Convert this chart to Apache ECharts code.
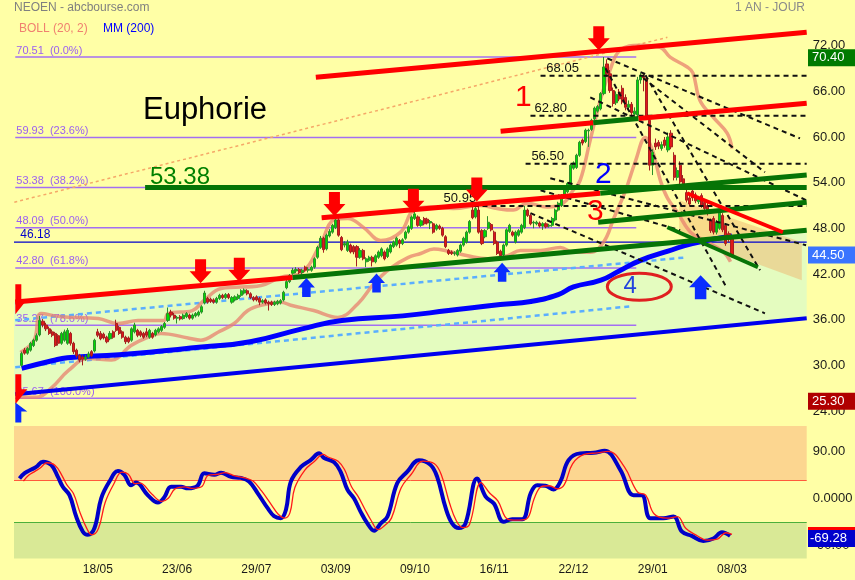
<!DOCTYPE html>
<html><head><meta charset="utf-8">
<script src="https://cdn.jsdelivr.net/npm/echarts@6/dist/echarts.min.js"></script>
<style>html,body{margin:0;padding:0;background:#ffffa6}#c{width:855px;height:580px}</style>
</head><body><div id="c"></div>
<script>
// ---------- calendar / categories ----------
const START = '2020-04-06';
const HOLIDAYS = ['2020-04-10','2020-04-13','2020-05-01','2020-12-25','2021-01-01','2021-04-02','2021-04-05'];
const N_DAYS = 260;
const tickLabels = ['18/05','23/06','29/07','03/09','09/10','16/11','22/12','29/01','08/03'];
const candleFirstIndex = 2;

// ---------- candles [open, close, low, high] ----------
const candles = [
[30.0,31.55,29.8,31.8],[32.0,31.6,31.4,32.3],[31.6,32.2,31.4,32.4],[32.0,32.9,31.8,33.1],[32.6,33.3,32.4,33.5],
[33.3,33.9,33.1,34.2],[34.0,35.9,33.8,36.5],[35.8,35.3,35.0,36.1],[35.3,34.8,34.5,35.6],[34.8,34.2,34.0,35.1],
[34.4,33.95,33.7,34.7],[34.2,32.6,32.4,34.4],[33.9,32.9,32.6,34.1],[32.9,34.2,32.7,34.4],[33.3,34.4,33.1,34.7],
[32.9,34.6,32.7,34.9],[34.2,32.9,32.6,34.4],[32.9,31.8,31.5,33.1],[32.0,31.3,31.0,32.2],[31.3,30.7,30.4,31.5],
[31.1,30.8,30.0,31.3],[30.8,31.1,30.6,31.4],[31.1,31.5,30.9,31.8],[31.8,31.3,31.1,32.0],[31.9,33.3,31.7,33.5],
[34.4,33.95,33.7,34.8],[34.2,33.5,33.3,34.5],[34.1,33.6,33.4,34.3],[33.7,33.1,32.9,33.9],[33.5,34.2,33.3,34.5],
[34.4,33.7,33.5,34.6],[35.5,34.6,34.4,36.0],[35.0,34.2,34.0,35.2],[34.4,33.7,33.5,34.6],[33.7,33.1,32.8,33.9],
[33.6,33.1,32.9,33.8],[33.3,34.8,33.1,35.0],[34.4,35.3,34.2,35.6],[34.6,33.95,33.7,34.8],[34.4,33.95,33.7,34.6],
[34.2,33.7,33.5,34.4],[34.4,33.95,33.7,34.9],[33.7,34.6,33.5,34.8],[34.2,33.7,33.5,34.4],[34.0,34.6,33.8,34.8],
[34.4,34.8,34.2,35.0],[34.6,35.1,34.4,35.3],[35.0,35.5,34.8,35.7],[35.9,36.8,35.7,37.6],[37.0,36.6,36.3,37.3],
[36.6,36.2,36.0,36.9],[36.2,36.3,35.5,36.5],[36.4,36.1,35.9,36.6],[36.15,36.6,36.0,36.8],[36.4,36.8,36.2,37.0],
[36.6,36.2,36.0,36.8],[36.2,36.6,36.0,36.8],[36.5,36.8,36.3,37.0],[36.6,37.0,36.4,37.2],[37.0,37.7,36.8,37.9],
[38.2,39.5,38.0,39.8],[38.8,38.3,38.1,39.0],[38.7,38.4,38.2,38.9],[38.6,38.3,38.1,38.8],[38.3,38.8,38.1,39.0],
[38.8,39.2,38.6,39.4],[39.2,38.9,38.7,39.4],[38.9,39.3,38.7,39.5],[39.3,38.9,38.7,39.5],[38.3,38.9,38.1,39.1],
[38.6,39.0,38.4,39.2],[38.8,39.2,38.6,39.4],[39.2,39.8,39.0,40.0],[39.5,39.9,39.3,40.1],[39.8,39.4,39.2,40.0],
[39.4,38.9,38.7,39.6],[38.9,38.6,38.4,39.1],[39.0,38.6,38.4,39.2],[38.8,38.3,37.9,39.0],[38.3,38.5,38.1,38.7],
[38.6,38.2,38.0,38.8],[38.3,38.1,37.2,38.5],[38.3,38.0,37.8,38.5],[38.0,38.3,37.8,38.5],[38.1,38.4,37.9,38.6],
[38.2,38.5,38.0,38.7],
[38.6,39.6,38.4,39.8],[40.2,41.0,40.0,41.3],[41.0,41.8,40.8,42.0],[42.1,42.5,41.9,42.8],[42.4,42.6,42.1,42.9],
[42.6,42.2,42.0,42.8],[42.2,42.5,41.9,42.7],[42.9,42.5,42.3,43.1],[42.5,42.6,42.2,42.9],[42.5,42.9,42.3,43.1],
[42.9,44.0,42.7,44.2],[44.2,45.5,44.0,45.7],[45.5,46.7,45.3,47.0],[46.7,45.2,44.8,46.9],[45.3,47.1,45.1,47.3],
[47.0,47.6,46.8,47.9],[47.5,48.4,47.3,48.6],[48.1,49.1,47.9,49.4],[49.1,47.1,46.9,49.5],[46.8,45.2,45.0,47.0],
[45.8,46.0,45.5,46.3],[45.1,46.2,44.9,46.5],[45.8,44.9,44.7,46.0],[45.6,44.9,44.6,45.8],[45.6,44.2,43.0,45.8],
[44.2,45.1,44.0,45.4],[45.1,44.0,43.8,45.3],[43.6,44.0,42.9,44.2],[43.8,44.2,43.6,44.4],[44.2,43.6,43.0,44.4],
[43.6,44.4,43.4,44.6],[44.2,44.9,44.0,45.1],[44.4,45.3,44.2,45.5],[44.9,44.0,43.8,45.1],[44.3,45.3,44.1,45.5],
[44.9,45.8,44.7,46.0],[45.6,46.2,45.4,46.4],[45.8,46.7,45.6,46.9],[46.4,46.0,45.4,46.6],[46.0,46.5,45.8,46.7],
[46.7,47.5,46.5,47.7],[47.5,48.2,47.3,48.4],[48.0,49.5,47.8,49.7],[49.3,49.9,49.1,50.5],[49.5,48.4,48.2,49.7],
[48.4,49.0,48.2,49.2],[49.3,48.6,48.4,49.5],[49.2,48.7,48.5,49.4],[48.7,48.9,47.9,49.1],[48.6,47.5,47.3,48.8],
[47.9,48.4,47.7,48.6],[48.3,48.0,47.8,48.5],[48.0,47.1,46.9,48.2],[46.9,45.6,45.4,47.1],[45.1,44.7,44.5,45.3],
[44.9,44.7,44.5,45.1],[44.7,44.8,44.4,45.0],[44.5,45.1,44.3,45.3],[45.0,45.8,44.8,46.0],[45.8,46.7,45.6,46.9],
[46.2,47.5,46.0,47.7],[47.5,48.9,47.3,49.1],[50.4,49.4,49.2,50.8],[49.5,50.6,49.3,50.8],[50.4,47.5,47.3,51.0],
[47.7,46.0,45.8,47.9],[46.9,47.7,46.7,47.9],[48.0,48.8,47.8,49.6],[48.5,47.8,47.6,48.7],[47.5,46.0,45.8,47.7],
[46.2,44.7,44.5,46.4],[45.0,44.4,43.8,45.2],[44.5,45.8,44.3,46.0],[45.8,47.8,45.6,48.0],[47.6,48.4,47.4,48.6],
[47.5,47.1,46.9,47.7],[46.2,47.5,46.0,47.7],[47.1,47.7,46.9,47.9],[47.5,48.4,47.3,48.6],
[48.1,50.4,47.9,50.95],[50.4,49.7,49.5,50.6],[49.7,48.6,48.4,49.9],[48.7,48.8,48.0,49.0],[48.6,48.8,48.4,49.0],
[48.7,48.3,48.1,48.9],[48.3,48.6,47.8,48.8],[48.6,48.2,48.0,48.8],[48.3,48.4,48.1,48.6],[48.4,49.3,48.2,49.5],
[49.1,50.4,48.9,50.6],[50.4,51.3,50.2,51.5],[51.0,52.3,50.8,52.5],[52.3,53.3,52.1,53.5],[52.8,53.9,52.6,54.1],
[53.7,56.3,53.5,56.5],[55.9,56.6,55.7,56.8],[56.0,57.6,55.8,57.8],[57.6,59.3,57.4,59.5],[59.6,59.2,58.9,59.8],
[59.4,60.9,59.2,61.1],[60.8,60.9,58.7,61.1],[61.0,62.2,60.8,62.4],[62.4,63.8,62.2,64.0],[63.4,64.0,63.2,64.2],
[63.7,65.7,63.5,65.9],
[65.7,69.2,65.5,70.51],[69.6,68.3,67.9,70.2],[68.3,66.1,65.8,68.8],[66.1,64.4,64.0,66.5],[64.5,65.6,64.2,66.0],
[65.9,65.0,64.7,66.3],[66.4,64.6,64.3,66.8],[65.2,63.9,63.5,65.6],[63.9,64.3,63.6,64.8],[64.3,63.2,62.8,64.6],
[63.0,63.4,62.6,63.9],[62.9,67.5,62.6,67.9],[67.5,68.1,67.0,68.4],[68.0,67.8,66.0,68.3],[67.7,62.6,62.3,68.1],
[62.2,56.3,55.6,62.6],[56.3,58.0,55.0,58.4],[59.2,58.7,58.3,59.8],[59.3,58.8,58.4,59.6],[58.5,59.0,58.2,59.4],
[59.6,58.9,58.6,60.0],[58.3,60.0,58.0,60.6],[60.5,58.7,58.4,60.9],[57.6,54.7,54.3,58.0],[54.7,55.6,54.3,56.0],
[56.3,54.1,53.8,56.8],[54.5,53.5,53.1,55.0],[52.7,51.7,51.4,53.2],[52.0,51.2,50.9,52.4],[52.9,52.0,51.6,53.3],
[52.4,51.6,51.3,52.7],[51.5,51.9,51.2,52.2],[52.3,51.0,50.7,52.6],[51.4,50.6,50.3,51.7],[51.0,50.0,49.7,51.3],
[49.0,47.7,47.4,49.3],[49.3,47.5,47.2,49.6],[47.5,48.8,47.2,49.1],[48.0,50.0,47.8,50.3],[49.7,47.8,47.5,50.0],
[48.4,46.0,45.7,48.7],[47.3,46.6,46.2,47.6],[46.7,44.5,44.2,47.0]
];

// ---------- indicators: [dayIndex, value] ----------
const bollUpper = [[1.6,31.7],[6.1,33.3],[8.4,36.8],[15,36.4],[27.1,36.15],[33.7,35.5],[40.2,35.9],[48.7,35.9],[50,36.8],[58,37.2],[62,38.6],[67.4,40.1],[80.5,40.5],[87.1,41.6],[93.6,42.1],[100.1,46.0],[104.4,49.1],[109,49.3],[114.2,48.1],[119.8,46.4],[126.3,47.5],[130.6,50.4],[136.1,50.8],[143.6,50.6],[152.5,51.0],[158,50.6],[163.2,50.4],[167.8,51.3],[174.4,50.8],[179.6,51.3],[182.9,53.0],[185.2,54.3],[188.5,59.6],[191.8,64.8],[195,68.8],[198.3,71.4],[204.8,72.05],[211.4,71.8],[214.7,70.5],[220.3,69.2],[222.2,68.4],[224.5,64.8],[228.8,62.6],[233.4,60.5],[235,58.5]];
const bollLower = [[1.6,25.8],[6.8,25.8],[11.7,27.0],[17.3,29.3],[23.8,30.9],[31.4,30.7],[37.9,32.6],[43.5,33.7],[47.7,34.2],[56.6,33.6],[60.8,33.3],[66.4,34.35],[71.7,35.5],[76.2,37.2],[80.5,37.9],[87.1,38.3],[90.3,37.9],[97.8,37.2],[105.7,36.3],[112.3,38.1],[117.5,40.7],[123.1,42.8],[128.7,44.15],[132.9,44.7],[137.2,45.3],[141.8,45.0],[148.3,44.4],[154.8,44.0],[161.4,44.4],[165.6,45.1],[172.2,45.1],[178.7,45.5],[183,44.85],[188.5,44.85],[192.9,46.2],[196.2,49.3],[200.1,53.0],[203.4,56.9],[206.6,59.95],[208.9,58.3],[211.5,54.3],[213.8,52.0],[217.1,50.1],[221.4,47.5],[226.9,46.2],[232.2,44.9],[234.5,43.6]];
const mm200 = [[2,29.6],[12,30.6],[17,31.0],[34,31.4],[61,32.4],[77,33.1],[94,34.8],[107,35.9],[127,36.5],[142,37.2],[159,38.0],[169,38.4],[178,39.3],[183,40.3],[192,41.2],[198,42.4],[205,43.8],[214,45.0],[222,46.0],[235,47.0]];
const smiMain = [[1.3,38],[3,48],[5.2,55],[6.8,60],[9,70],[11.7,64],[13.9,41],[15.5,22],[17.7,6],[19.9,-35],[22.1,-64],[23.7,-70],[25.9,-57],[28.1,0],[30.8,32],[33.6,52],[35.7,45],[37.9,25],[39.5,30],[43.4,6],[46.7,-8],[48.8,2],[51,22],[54.3,22],[56.5,19],[59.7,24],[61.9,48],[65.2,45],[67.4,49],[70.7,41],[73.9,39],[76.6,32],[79.4,10],[82.7,-19],[84.8,-34],[87,-38],[88.7,-22],[90.3,32],[93.6,60],[96.8,73],[99.6,86],[101.2,77],[104.5,69],[106.6,51],[108.9,16],[111,0],[113.2,-26],[115.4,-48],[117.6,-62],[119.8,-48],[122,-35],[125.2,29],[128.5,51],[132.3,73],[136.1,64],[138.3,41],[141.1,-19],[143.2,-48],[145.4,-57],[147.6,-48],[151.4,38],[154.2,3],[156.9,-10],[160.1,-45],[162.9,-40],[166.2,-40],[169,10],[171.1,25],[173.8,24],[176.5,17],[178.7,32],[181.4,73],[185.2,86],[189.6,87],[193.2,91],[198.4,54],[202.7,6],[205.4,6],[208.2,-38],[212.5,-38],[215.8,-35],[218.6,-64],[221.8,-72],[225.6,-82],[228.9,-77],[231.7,-65],[234.4,-72]];
const smiSignal = [[2.6,33],[4.3,44],[6.5,52],[8.1,58],[10.3,68],[13,63],[15.2,44],[16.8,26],[19,9],[21.2,-28],[23.4,-58],[25,-70],[27.2,-58],[29.4,-8],[32.1,26],[34.9,50],[37,46],[39.2,28],[40.8,29],[44.7,8],[48,-6],[50.1,0],[52.3,18],[55.6,22],[57.8,19],[61,22],[63.2,44],[66.5,46],[68.7,49],[72,43],[75.2,39],[77.9,33],[80.7,14],[84,-13],[86.1,-30],[88.3,-38],[90,-28],[91.6,20],[94.9,54],[98.1,71],[100.9,84],[102.5,79],[105.8,71],[107.9,55],[110.2,22],[112.3,4],[114.5,-20],[116.7,-43],[118.9,-60],[121.1,-52],[123.3,-38],[126.5,20],[129.8,46],[133.6,71],[137.4,66],[139.6,46],[142.4,-10],[144.5,-42],[146.7,-56],[148.9,-50],[152.7,30],[155.5,10],[158.2,-5],[161.4,-40],[164.2,-42],[167.5,-40],[170.3,2],[172.4,22],[175.1,24],[177.8,18],[180,26],[182.7,66],[186.5,84],[190.9,87],[194.5,90],[199.7,60],[204,12],[206.7,6],[209.5,-30],[213.8,-38],[217.1,-35],[219.9,-58],[223.1,-70],[226.9,-80],[230.2,-78],[233,-66],[235,-69]];

// ---------- Fibonacci & levels ----------
const fibLevels = [70.51,59.93,53.38,48.09,42.80,35.27,25.67];
const fibPct = ['0.0%','23.6%','38.2%','50.0%','61.8%','78.6%','100.0%'];
const fibRange = [-0.08,203.6];
const levelValues = [68.05,62.80,56.50,50.95];
const levelStart = [172.2,168.9,167.3,138.4];
const levelLabelAt = [174.1,170.2,169.2,140.4];
const markValue = 46.18;

// ---------- drawn trend lines [i1,v1,i2,v2] ----------
const redLines = [[98.5,67.85,259.5,73.77],[159.1,60.76,189.5,61.87],[204.3,62.42,259.5,64.45],[100.4,49.4,191.8,52.6],[-0.1,38.33,90.9,41.55]];
const greenLines = [[189.5,61.87,204.3,62.42],[191.8,52.6,259.5,55.0],[42.5,53.38,259.5,53.38],[90.9,41.55,259.5,47.75],[191.1,48.8,259.5,51.43]];
const greenShort = [[213.8,48.14,243.5,42.89]];
const redShort = [[220.3,52.61,251.7,47.49]];
const blueBase = [[-0.1,26.2,259.5,36.2]];
const lightBlueLines = [[-0.1,35.93,220.3,44.2],[-0.1,29.75,201.9,37.76]];
const orangeLines = [[-0.4,51.43,213.8,73.1]];
const fanLines = [[194.1,70.34,257.3,59.82],[188.5,65.21,259.3,51.7],[205.9,67.72,245.8,55.37],[193.5,69.03,232.8,40.52],[206.6,68.11,244.2,42.49],[175.4,54.59,259.3,45.78],[168.9,49.99,245.8,36.84],[172.2,53.0,218,47.75]];
const channelPoly = [[-0.5,38.3],[259.5,47.75],[259.5,36.2],[-0.5,26.2]];
const wedgePoly = [[217.7,51.69],[257.9,46.17],[257.9,41.18],[217.7,47.09]];

// ---------- arrows ----------
const redArrows = [[60.7,42.37],[73.4,42.56],[104.6,51.19],[130.5,51.62],[151.3,53.11],[191.3,72.97]];
const blueArrows = [[95.4,40.24],[118.4,40.81],[159.6,42.24]];
const blueBigArrows = [[224.7,40.26]];
const redHalfArrows = [[1.9,38.67],[1.9,26.86]];
const blueHalfArrows = [[1.9,23.82]];

// ---------- text annotations ----------
const annotTexts = ['Euphorie','53.38','1','2','3','4'];
const annotPos = [[41.8,63.51],[44.1,54.71],[166.6,65.16],[192.8,55.04],[190.2,50.24],[201.6,40.33]];
const ellipseCenter = [204.6,40.33];
const tagValues = [70.40,44.50,25.30];
const smiTagValue = -69.28;

// =====================================================
const FONT = '"Liberation Sans", Arial, Helvetica, sans-serif';
function tradingDays(){
  const out=[]; const d=new Date(START+'T12:00:00Z');
  while(out.length<N_DAYS){
    const wd=d.getUTCDay(); const iso=d.toISOString().slice(0,10);
    if(wd!==0&&wd!==6&&HOLIDAYS.indexOf(iso)<0) out.push(iso.slice(8,10)+'/'+iso.slice(5,7));
    d.setUTCDate(d.getUTCDate()+1);
  }
  return out;
}
const dates = tradingDays();
const candleData = [];
for(let k=0;k<candleFirstIndex;k++) candleData.push('-');
candles.forEach(c=>candleData.push(c));

function segs(arr, style, z, id){
  return {type:'custom', id, xAxisIndex:1, yAxisIndex:0, z, silent:true, clip:true, animation:false,
    data: arr,
    renderItem(params, api){
      const a = api.coord([api.value(0), api.value(1)]);
      const b = api.coord([api.value(2), api.value(3)]);
      return {type:'line', shape:{x1:a[0],y1:a[1],x2:b[0],y2:b[1]}, style:Object.assign({fill:null}, style)};
    }};
}
function poly(points, fill, z){
  return {type:'custom', xAxisIndex:1, yAxisIndex:0, z, silent:true, clip:true, animation:false,
    data:[points[0]],
    renderItem(params, api){
      return {type:'polygon', shape:{points: points.map(q=>api.coord(q))}, style:{fill}};
    }};
}
function arrows(pts, path, size, color, z){
  return {type:'scatter', xAxisIndex:1, yAxisIndex:0, z, silent:true, animation:false,
    symbol:'path://'+path, symbolSize:size, itemStyle:{color, opacity:1}, data:pts};
}
const DOWN = 'M3,0 L9,0 L9,6 L12,6 L6,12 L0,6 L3,6 Z';
const UP = 'M6,0 L12,6 L9,6 L9,12 L3,12 L3,6 L0,6 Z';
const DOWN_HALF = 'M0,0 L6,0 L6,14 L12,14 L0,28 Z';
const UP_HALF = 'M0,0 L12,10 L6,10 L6,22 L0,22 Z';

const chart = echarts.init(document.getElementById('c'), null, {renderer:'canvas'});
const option = {
  animation:false,
  backgroundColor:'#ffffa6',
  grid:[
    {left:14, width:792.7, top:0, height:456.7, outerBoundsMode:'none'},
    {left:14, width:792.7, top:426, height:132.5, outerBoundsMode:'none'}
  ],
  xAxis:[
    {type:'category', gridIndex:0, data:dates, show:false},
    {type:'value', gridIndex:0, min:-0.5, max:259.5, show:false},
    {type:'category', gridIndex:1, data:dates, axisLine:{show:false}, axisTick:{show:false}, splitLine:{show:false},
      axisLabel:{interval:(idx,val)=>tickLabels.indexOf(val)>=0, color:'#1a1a1a', fontSize:12, fontFamily:FONT, margin:5}},
    {type:'value', gridIndex:1, min:-0.5, max:259.5, show:false}
  ],
  yAxis:[
    {type:'value', gridIndex:0, position:'right', min:18, max:78, interval:6, axisLine:{show:false}, axisTick:{show:false}, splitLine:{show:false},
      axisLabel:{color:'#1a1a1a', fontSize:13, fontFamily:FONT, margin:6, formatter:v=>(v===18||v===78)?'':v.toFixed(2)}},
    {type:'value', gridIndex:1, position:'right', min:-115.3, max:138.4, axisLine:{show:false}, axisTick:{show:false}, splitLine:{show:false},
      axisLabel:{customValues:[-90,0,90], color:'#1a1a1a', fontSize:13, fontFamily:FONT, margin:6, formatter:v=>v===0?'0.0000':v.toFixed(2)}}
  ],
  series:[
    poly(channelPoly,'#e4fcbf',1),
    poly(wedgePoly,'rgba(240,175,105,0.45)',1),
    {type:'custom', xAxisIndex:1, yAxisIndex:0, z:2, silent:true, clip:true, animation:false,
      data: fibLevels.map((v,k)=>[fibRange[0], v, k]),
      renderItem(params, api){
        const v=api.value(1), k=api.value(2);
        const a=api.coord([fibRange[0], v]), b=api.coord([fibRange[1], v]);
        return {type:'group', children:[
          {type:'line', shape:{x1:a[0],y1:a[1],x2:b[0],y2:b[1]}, style:{stroke:'#a36ff2', lineWidth:1.5}},
          {type:'text', x:a[0]+1, y:a[1]-1, style:{text:v.toFixed(2)+'  ('+fibPct[k]+')', fill:'#9b60f0', font:'11px '+FONT, align:'left', verticalAlign:'bottom'}}
        ]};
      }},
    {type:'custom', xAxisIndex:1, yAxisIndex:0, z:2, silent:true, clip:true, animation:false,
      data:[[-0.5, markValue]],
      renderItem(params, api){
        const v=api.value(1);
        const a=api.coord([-0.5, v]), b=api.coord([259.5, v]), t=api.coord([1.57, v]);
        return {type:'group', children:[
          {type:'line', shape:{x1:a[0],y1:a[1],x2:b[0],y2:b[1]}, style:{stroke:'#0000cc', lineWidth:1.2}},
          {type:'text', x:t[0], y:t[1]-2, style:{text:v.toFixed(2), fill:'#0000cc', font:'12px '+FONT, align:'left', verticalAlign:'bottom'}}
        ]};
      }},
    segs(lightBlueLines, {stroke:'#5aaeff', lineWidth:2.5, lineDash:[5,4]}, 3),
    segs(orangeLines, {stroke:'#f5a868', lineWidth:1.5, lineDash:[3,3]}, 3),
    {type:'line', xAxisIndex:1, yAxisIndex:0, z:4, data:bollUpper, smooth:0.4, showSymbol:false, silent:true,
      lineStyle:{color:'rgba(232,130,110,0.75)', width:3.5}},
    {type:'line', xAxisIndex:1, yAxisIndex:0, z:4, data:bollLower, smooth:0.4, showSymbol:false, silent:true,
      lineStyle:{color:'rgba(232,130,110,0.75)', width:3.5}},
    {type:'line', id:'mm200', xAxisIndex:1, yAxisIndex:0, z:5, data:mm200, smooth:0.5, showSymbol:false, silent:true,
      lineStyle:{color:'#0000ff', width:5}},
    segs(blueBase, {stroke:'#0000ee', lineWidth:4}, 5),
    {type:'candlestick', xAxisIndex:0, yAxisIndex:0, z:6, data:candleData, barWidth:2.6, silent:true,
      itemStyle:{color:'#00dd00', color0:'#e01818', borderColor:'#2b8f2b', borderColor0:'#a52020', borderWidth:1}},
    {type:'custom', xAxisIndex:1, yAxisIndex:0, z:7, silent:true, clip:true, animation:false,
      data: levelValues.map((v,k)=>[levelStart[k], v, k]),
      renderItem(params, api){
        const v=api.value(1), k=api.value(2);
        const a=api.coord([levelStart[k], v]), b=api.coord([259.5, v]), t=api.coord([levelLabelAt[k], v]);
        return {type:'group', children:[
          {type:'line', shape:{x1:a[0],y1:a[1],x2:b[0],y2:b[1]}, style:{stroke:'#111', lineWidth:2, lineDash:[5,4]}},
          {type:'text', x:t[0], y:t[1]-1, style:{text:v.toFixed(2), fill:'#111', font:'13px '+FONT, align:'left', verticalAlign:'bottom'}}
        ]};
      }},
    segs(fanLines, {stroke:'#111', lineWidth:2, lineDash:[5,4]}, 7),
    segs(redLines, {stroke:'#ff0000', lineWidth:5}, 8),
    segs(greenLines, {stroke:'#067406', lineWidth:5}, 8),
    segs(greenShort, {stroke:'#067406', lineWidth:4}, 8),
    segs(redShort, {stroke:'#ff0000', lineWidth:4}, 8),
    arrows(redArrows, DOWN, [22,24], '#ff0000', 9),
    arrows(blueArrows, UP, [17,19], '#0a2cff', 9),
    arrows(blueBigArrows, UP, [23,24], '#0a2cff', 9),
    arrows(redHalfArrows, DOWN_HALF, [12,30], '#ff0000', 9),
    arrows(blueHalfArrows, UP_HALF, [12,20], '#0a2cff', 9),
    // SMI panel
    {type:'line', xAxisIndex:3, yAxisIndex:1, z:1, data:[[0,0]], showSymbol:false, silent:true, lineStyle:{opacity:0},
      markArea:{silent:true, data:[
        [{yAxis:34, itemStyle:{color:'#fcd690'}},{yAxis:138.4}],
        [{yAxis:-115.3, itemStyle:{color:'#d9e996'}},{yAxis:-46}]
      ]},
      markLine:{silent:true, symbol:['none','none'], label:{show:false}, data:[
        {yAxis:34, lineStyle:{color:'#ff5a3c', width:1, type:'solid'}},
        {yAxis:-46, lineStyle:{color:'#4caf3a', width:1, type:'solid'}}
      ]}},
    {type:'line', id:'smiMain', xAxisIndex:3, yAxisIndex:1, z:5, data:smiMain, smooth:0.4, showSymbol:false, silent:true,
      lineStyle:{color:'#0000c8', width:4}},
    {type:'line', xAxisIndex:3, yAxisIndex:1, z:6, data:smiSignal, smooth:0.4, showSymbol:false, silent:true,
      lineStyle:{color:'#ff1a1a', width:1.3}}
  ]
};
chart.setOption(option);

// ---------- annotations positioned through the chart's scales ----------
const P = pt => chart.convertToPixel({seriesId:'mm200'}, pt);
const PS = pt => chart.convertToPixel({seriesId:'smiMain'}, pt);
const annotStyle = [
  {size:31, color:'#000000', align:'left'},
  {size:24, color:'#008000', align:'left'},
  {size:30, color:'#ff0000', align:'center'},
  {size:30, color:'#0000ff', align:'center'},
  {size:30, color:'#ff0000', align:'center'},
  {size:24, color:'#2244dd', align:'center'}
];
const tagColors = ['#007a00','#3a74ff','#b00000'];
const g = [];
g.push({type:'text', left:14, top:2, style:{text:'NEOEN - abcbourse.com', fill:'#808080', font:'12px '+FONT}});
g.push({type:'text', left:19, top:23, style:{text:'BOLL (20, 2)', fill:'#f08070', font:'12px '+FONT}});
g.push({type:'text', left:103, top:23, style:{text:'MM (200)', fill:'#0000ff', font:'12px '+FONT}});
g.push({type:'text', right:50, top:2, style:{text:'1 AN - JOUR', fill:'#8a8a8a', font:'12px '+FONT}});
g.push({type:'text', left:19, top:428, style:{text:'SMI (14, 3, 5)', fill:'#1c1c8c', font:'12px '+FONT}});
annotTexts.forEach((t,k)=>{
  const p = P(annotPos[k]); const s = annotStyle[k];
  g.push({type:'text', x:p[0], y:p[1], z:50, style:{text:t, fill:s.color, font:s.size+'px '+FONT, align:s.align, verticalAlign:'middle'}});
});
const ec = P(ellipseCenter);
g.push({type:'ellipse', z:49, shape:{cx:ec[0], cy:ec[1], rx:32, ry:13.5}, style:{fill:null, stroke:'#e02020', lineWidth:3}});
tagValues.forEach((v,k)=>{
  const y = P([0,v])[1];
  g.push({type:'rect', z:60, shape:{x:808, y:y-8.5, width:47, height:17}, style:{fill:tagColors[k]}});
  g.push({type:'text', z:61, x:812, y:y, style:{text:v.toFixed(2), fill:'#ffffff', font:'13px '+FONT, verticalAlign:'middle'}});
});
const ys = PS([0, smiTagValue])[1] + 4;
g.push({type:'rect', z:59, shape:{x:808, y:ys-11.5, width:47, height:17}, style:{fill:'#ff0000'}});
g.push({type:'rect', z:60, shape:{x:808, y:ys-8.5, width:47, height:17}, style:{fill:'#0000cc'}});
g.push({type:'text', z:61, x:810, y:ys, style:{text:smiTagValue.toFixed(2), fill:'#ffffff', font:'13px '+FONT, verticalAlign:'middle'}});
chart.setOption({graphic:g});
</script>
</body></html>
